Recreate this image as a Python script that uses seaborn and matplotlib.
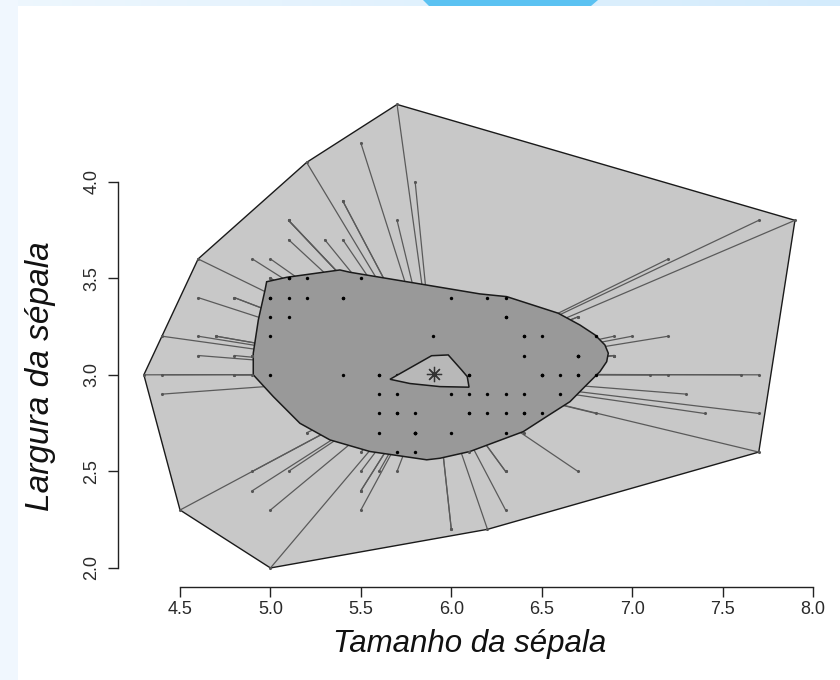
import numpy as np
import pandas as pd
import matplotlib
matplotlib.use("Agg")
import matplotlib.pyplot as plt
from matplotlib.path import Path
from matplotlib.patches import Polygon, Rectangle
import seaborn as sns

# Iris sepal measurements (setosa, versicolor, virginica)
sepal_length = [
    5.1, 4.9, 4.7, 4.6, 5.0, 5.4, 4.6, 5.0, 4.4, 4.9, 5.4, 4.8, 4.8, 4.3, 5.8, 5.7, 5.4, 5.1, 5.7, 5.1,
    5.4, 5.1, 4.6, 5.1, 4.8, 5.0, 5.0, 5.2, 5.2, 4.7, 4.8, 5.4, 5.2, 5.5, 4.9, 5.0, 5.5, 4.9, 4.4, 5.1,
    5.0, 4.5, 4.4, 5.0, 5.1, 4.8, 5.1, 4.6, 5.3, 5.0,
    7.0, 6.4, 6.9, 5.5, 6.5, 5.7, 6.3, 4.9, 6.6, 5.2, 5.0, 5.9, 6.0, 6.1, 5.6, 6.7, 5.6, 5.8, 6.2, 5.6,
    5.9, 6.1, 6.3, 6.1, 6.4, 6.6, 6.8, 6.7, 6.0, 5.7, 5.5, 5.5, 5.8, 6.0, 5.4, 6.0, 6.7, 6.3, 5.6, 5.5,
    5.5, 6.1, 5.8, 5.0, 5.6, 5.7, 5.7, 6.2, 5.1, 5.7,
    6.3, 5.8, 7.1, 6.3, 6.5, 7.6, 4.9, 7.3, 6.7, 7.2, 6.5, 6.4, 6.8, 5.7, 5.8, 6.4, 6.5, 7.7, 7.7, 6.0,
    6.9, 5.6, 7.7, 6.3, 6.7, 7.2, 6.2, 6.1, 6.4, 7.2, 7.4, 7.9, 6.4, 6.3, 6.1, 7.7, 6.3, 6.4, 6.0, 6.9,
    6.7, 6.9, 5.8, 6.8, 6.7, 6.7, 6.3, 6.5, 6.2, 5.9,
]
sepal_width = [
    3.5, 3.0, 3.2, 3.1, 3.6, 3.9, 3.4, 3.4, 2.9, 3.1, 3.7, 3.4, 3.0, 3.0, 4.0, 4.4, 3.9, 3.5, 3.8, 3.8,
    3.4, 3.7, 3.6, 3.3, 3.4, 3.0, 3.4, 3.5, 3.4, 3.2, 3.1, 3.4, 4.1, 4.2, 3.1, 3.2, 3.5, 3.6, 3.0, 3.4,
    3.5, 2.3, 3.2, 3.5, 3.8, 3.0, 3.8, 3.2, 3.7, 3.3,
    3.2, 3.2, 3.1, 2.3, 2.8, 2.8, 3.3, 2.4, 2.9, 2.7, 2.0, 3.0, 2.2, 2.9, 2.9, 3.1, 3.0, 2.7, 2.2, 2.5,
    3.2, 2.8, 2.5, 2.8, 2.9, 3.0, 2.8, 3.0, 2.9, 2.6, 2.4, 2.4, 2.7, 2.7, 3.0, 3.4, 3.1, 2.3, 3.0, 2.5,
    2.6, 3.0, 2.6, 2.3, 2.7, 3.0, 2.9, 2.9, 2.5, 2.8,
    3.3, 2.7, 3.0, 2.9, 3.0, 3.0, 2.5, 2.9, 2.5, 3.6, 3.2, 2.7, 3.0, 2.5, 2.8, 3.2, 3.0, 3.8, 2.6, 2.2,
    3.2, 2.8, 2.8, 2.7, 3.3, 3.2, 2.8, 3.0, 2.8, 3.0, 2.8, 3.8, 2.8, 2.8, 2.6, 3.0, 3.4, 3.1, 3.0, 3.1,
    3.1, 3.1, 2.7, 3.2, 3.3, 3.0, 2.5, 3.0, 3.4, 3.0,
]

# Bag (50% depth region) outline
bag_x = [4.979, 5.090, 5.384, 5.440, 6.158, 6.306, 6.591, 6.711, 6.794, 6.849, 6.868, 6.859, 6.822,
         6.748, 6.656, 6.527, 6.398, 6.103, 5.937, 5.864, 5.550, 5.329, 5.163, 5.016, 4.905, 4.905,
         4.933, 4.970]
bag_y = [3.482, 3.505, 3.543, 3.531, 3.419, 3.405, 3.319, 3.258, 3.207, 3.155, 3.112, 3.068, 3.017,
         2.948, 2.861, 2.784, 2.706, 2.603, 2.568, 2.560, 2.603, 2.663, 2.749, 2.887, 3.000, 3.112,
         3.284, 3.439]

# Deepest region outline and depth median
core_x = [5.661, 5.891, 5.983, 6.057, 6.088, 6.098, 5.937, 5.771]
core_y = [2.977, 3.099, 3.103, 3.025, 2.991, 2.936, 2.939, 2.955]
median_x = [5.906]
median_y = [3.003]

x_ticks = [4.5, 5.0, 5.5, 6.0, 6.5, 7.0, 7.5, 8.0]
y_ticks = [2.0, 2.5, 3.0, 3.5, 4.0]
x_label = "Tamanho da sépala"
y_label = "Largura da sépala"


def convex_hull(pts):
    pts = sorted(set(pts))
    def cross(o, a, b):
        return (a[0] - o[0]) * (b[1] - o[1]) - (a[1] - o[1]) * (b[0] - o[0])
    lower, upper = [], []
    for p in pts:
        while len(lower) >= 2 and cross(lower[-2], lower[-1], p) <= 0:
            lower.pop()
        lower.append(p)
    for p in reversed(pts):
        while len(upper) >= 2 and cross(upper[-2], upper[-1], p) <= 0:
            upper.pop()
        upper.append(p)
    return lower[:-1] + upper[:-1]


df = pd.DataFrame({"length": sepal_length, "width": sepal_width})
xy = df[["length", "width"]].to_numpy()
bag_poly = np.column_stack([bag_x, bag_y])
inside = Path(bag_poly).contains_points(xy)
df["zone"] = np.where(inside, "bag", "loop")
loop_hull = np.array(convex_hull([tuple(p) for p in xy]))

sns.set_theme(style="white")
plt.rcParams["font.family"] = ["Liberation Sans", "DejaVu Sans"]

fig = plt.figure(figsize=(8.4, 6.8), dpi=100)
fig.patch.set_facecolor("white")

# page decoration: left and top bands
fig.patches.append(Rectangle((0, 0), 18 / 840, 1, transform=fig.transFigure,
                             facecolor="#F0F7FE", edgecolor="none", zorder=0))
band = fig.add_axes([0, 1 - 6 / 680, 1, 6 / 680])
grad = np.linspace(0, 1, 256)[None, :]
band.imshow(grad, aspect="auto", extent=(0, 840, 0, 6),
            cmap=matplotlib.colors.LinearSegmentedColormap.from_list("b", ["#EEF7FE", "#D3EBFC"]))
band.add_patch(Polygon([(423, 6), (598, 6), (591, 0), (429, 0)], closed=True,
                       facecolor="#5BC2F2", edgecolor="none"))
band.set_xlim(0, 840)
band.set_ylim(0, 6)
band.axis("off")

ax = fig.add_axes([117.8 / 840, 1 - 586.5 / 680, (821 - 117.8) / 840, (586.5 - 85.9) / 680])
ax.set_facecolor("none")

# loop
ax.add_patch(Polygon(loop_hull, closed=True, facecolor="#C8C8C8", edgecolor="#1a1a1a",
                     linewidth=1.0, zorder=1))
# whiskers toward the median
outer = df[df["zone"] == "loop"]
for lx, ly in zip(outer["length"], outer["width"]):
    ax.plot([lx, median_x[0]], [ly, median_y[0]], color="#5a5a5a", linewidth=0.9, zorder=2)
# bag
ax.add_patch(Polygon(bag_poly, closed=True, facecolor="#999999", edgecolor="#1a1a1a",
                     linewidth=1.1, zorder=3))
sns.scatterplot(data=df[df["zone"] == "bag"], x="length", y="width", color="black",
                s=6, linewidth=0, ax=ax, zorder=4, legend=False)
sns.scatterplot(data=outer, x="length", y="width", color="#555555",
                s=5, linewidth=0, ax=ax, zorder=4, legend=False)
# deepest region and median
ax.add_patch(Polygon(np.column_stack([core_x, core_y]), closed=True, facecolor="#B8B8B8",
                     edgecolor="#1a1a1a", linewidth=1.1, zorder=5))
ax.plot(median_x, median_y, marker=(8, 2, 0), markersize=11, color="#333333",
        markeredgewidth=0.9, linestyle="none", zorder=6)

ax.set_xlim(4.156, 8.044)
ax.set_ylim(1.904, 4.496)
ax.set_xticks(x_ticks)
ax.set_yticks(y_ticks)
ax.set_xticklabels([f"{t:.1f}" for t in x_ticks])
ax.set_yticklabels([f"{t:.1f}" for t in y_ticks], rotation=90, va="center")
for s in ["top", "right"]:
    ax.spines[s].set_visible(False)
ax.spines["left"].set_bounds(2.0, 4.0)
ax.spines["bottom"].set_bounds(4.5, 8.0)
for s in ["left", "bottom"]:
    ax.spines[s].set_color("#222222")
    ax.spines[s].set_linewidth(1.0)
ax.tick_params(axis="both", direction="out", length=7.5, width=1.0, color="#222222",
               labelsize=13, labelcolor="#2a2a2a", bottom=True, left=True)
ax.tick_params(axis="x", pad=3)
ax.tick_params(axis="y", pad=5)
ax.set_xlabel(x_label, fontsize=22.5, style="italic", color="#111111", labelpad=8)
ax.set_ylabel(y_label, fontsize=24, style="italic", color="#111111")
ax.yaxis.set_label_coords(-0.088, 0.4205)

fig.savefig("out.png", dpi=100)
